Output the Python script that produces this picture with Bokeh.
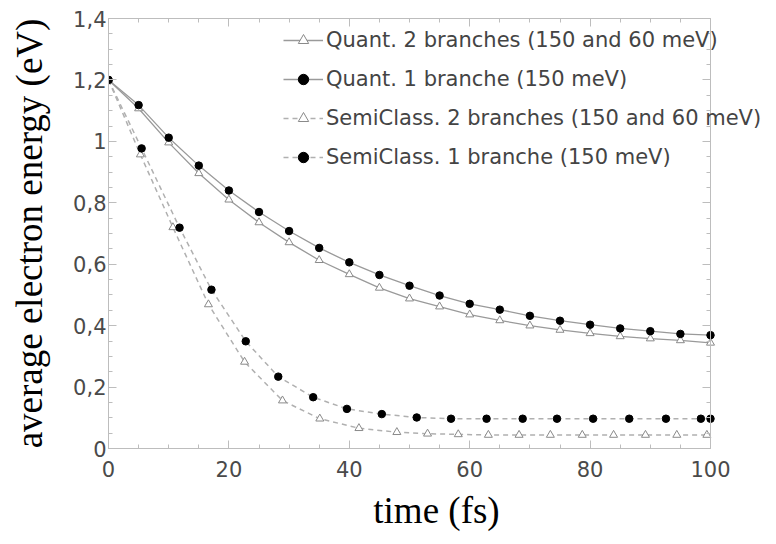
from bokeh.plotting import figure
from bokeh.models import (LinearAxis, FixedTicker, CustomJSTickFormatter, Range1d,
                          Legend, LegendItem)
from bokeh.embed import file_html
from bokeh.resources import INLINE

# ---- data ----
q_t = [0, 5, 10, 15, 20, 25, 30, 35, 40, 45, 50, 55, 60, 65, 70, 75, 80, 85, 90, 95, 100]
quant1 = [1.20, 1.118, 1.012, 0.921, 0.840, 0.770, 0.708, 0.653, 0.606, 0.565, 0.530,
          0.498, 0.471, 0.452, 0.432, 0.416, 0.403, 0.391, 0.382, 0.373, 0.369]
quant2 = [1.20, 1.107, 0.996, 0.896, 0.810, 0.736, 0.671, 0.613, 0.567, 0.523, 0.488,
          0.462, 0.436, 0.417, 0.400, 0.386, 0.375, 0.365, 0.358, 0.352, 0.344]

sc1_t = [0, 5.5, 11.8, 17.1, 22.8, 28.2, 34.0, 39.6, 45.4, 51.2, 56.9, 62.8, 68.8,
         74.5, 80.5, 86.5, 92.6, 98.4, 100]
semi1 = [1.20, 0.977, 0.719, 0.517, 0.349, 0.234, 0.167, 0.129, 0.112, 0.101, 0.097,
         0.097, 0.097, 0.097, 0.097, 0.097, 0.097, 0.097, 0.097]
sc2_t = [0, 5.3, 10.7, 16.6, 22.6, 28.9, 35.1, 41.6, 47.9, 53.0, 58.1, 63.1, 68.2,
         73.4, 78.7, 83.9, 89.2, 94.4, 99.4]
semi2 = [1.20, 0.957, 0.720, 0.469, 0.282, 0.156, 0.097, 0.066, 0.053, 0.048, 0.046,
         0.044, 0.044, 0.044, 0.044, 0.044, 0.044, 0.044, 0.044]

labels = ["Quant. 2 branches (150 and 60 meV)",
          "Quant. 1 branche (150 meV)",
          "SemiClass. 2 branches (150 and 60 meV)",
          "SemiClass. 1 branche (150 meV)"]

x_ticks = [0, 20, 40, 60, 80, 100]
y_ticks = [0, 0.2, 0.4, 0.6, 0.8, 1.0, 1.2, 1.4]
x_minor = list(range(0, 101, 5))
y_minor = [i * 0.05 for i in range(0, 29)]

AXIS_COL = "#bdbdbd"
LINE_COL = "#9a9a9a"
DASH_COL = "#b0b0b0"
SANS = "DejaVu Sans"

# the frame is wider than the 0..100 box so the legend (which overhangs the
# box on the right, as in the reference) is not clipped
FRAME_W = 656
BOX_W = 602
X_END = 100 * FRAME_W / BOX_W

p = figure(frame_width=FRAME_W, frame_height=430, output_backend="svg",
           toolbar_location=None,
           x_range=Range1d(0, X_END), y_range=Range1d(0, 1.4),
           min_border_left=108, min_border_top=18, min_border_right=0,
           min_border_bottom=88)
p.grid.visible = False
p.outline_line_color = None

fmt = CustomJSTickFormatter(code="return (Math.round(tick*10)/10).toString().replace('.', ',');")

def style_axis(ax, show_labels):
    ax.axis_line_color = AXIS_COL
    ax.major_tick_line_color = AXIS_COL
    ax.minor_tick_line_color = AXIS_COL
    ax.major_tick_in = 8
    ax.major_tick_out = 0
    ax.minor_tick_in = 4
    ax.minor_tick_out = 0
    if show_labels:
        ax.major_label_text_font = SANS
        ax.major_label_text_font_size = "21px"
        ax.major_label_text_color = "#4a4a4a"
        ax.axis_label_text_font = "Liberation Serif"
        ax.axis_label_text_font_style = "normal"
        ax.axis_label_text_color = "#000000"
    else:
        ax.major_label_text_font_size = "0px"
        ax.major_label_text_color = None
        ax.major_label_standoff = 0

xa = p.xaxis[0]
xa.ticker = FixedTicker(ticks=x_ticks, minor_ticks=x_minor)
xa.bounds = (0, 100)
xa.axis_label = "time (fs)"
style_axis(xa, True)
xa.axis_label_text_font_size = "37px"
xa.major_label_standoff = 12
xa.axis_label_standoff = 10

ya = p.yaxis[0]
ya.ticker = FixedTicker(ticks=y_ticks, minor_ticks=y_minor)
ya.formatter = fmt
ya.axis_label = "average electron energy (eV)"
style_axis(ya, True)
ya.axis_label_text_font_size = "37px"
ya.major_label_standoff = 2
ya.axis_label_standoff = 20

top = LinearAxis(ticker=FixedTicker(ticks=x_ticks, minor_ticks=x_minor), bounds=(0, 100))
style_axis(top, False)
p.add_layout(top, "above")
right = LinearAxis(ticker=FixedTicker(ticks=y_ticks, minor_ticks=y_minor),
                   fixed_location=100)
style_axis(right, False)
p.add_layout(right, "right")

# ---- series ----
l_q2 = p.line(q_t, quant2, line_color=LINE_COL, line_width=1.3)
m_q2 = p.scatter(q_t, quant2, marker="triangle", size=8, line_color="#8a8a8a",
                 fill_color="white", line_width=1)
l_q1 = p.line(q_t, quant1, line_color=LINE_COL, line_width=1.3)
m_q1 = p.scatter(q_t, quant1, marker="circle", size=7.5, line_color="black",
                 fill_color="black")
l_s2 = p.line(sc2_t, semi2, line_color=DASH_COL, line_width=1.5, line_dash="5 4")
m_s2 = p.scatter(sc2_t, semi2, marker="triangle", size=8, line_color="#8a8a8a",
                 fill_color="white", line_width=1)
l_s1 = p.line(sc1_t, semi1, line_color=DASH_COL, line_width=1.5, line_dash="5 4")
m_s1 = p.scatter(sc1_t, semi1, marker="circle", size=7.5, line_color="black",
                 fill_color="black")

legend = Legend(items=[
    LegendItem(label=labels[0], renderers=[l_q2, m_q2]),
    LegendItem(label=labels[1], renderers=[l_q1, m_q1]),
    LegendItem(label=labels[2], renderers=[l_s2, m_s2]),
    LegendItem(label=labels[3], renderers=[l_s1, m_s1]),
], location=(175, 278))
legend.padding = 0
legend.margin = 0
legend.border_line_color = None
legend.background_fill_alpha = 0
legend.glyph_width = 40
legend.glyph_height = 26
legend.spacing = 13
legend.label_standoff = 3
legend.label_text_font = SANS
legend.label_text_font_size = "21px"
legend.label_text_color = "#444444"
p.add_layout(legend, "center")

open("out.html", "w").write(file_html(p, INLINE))
